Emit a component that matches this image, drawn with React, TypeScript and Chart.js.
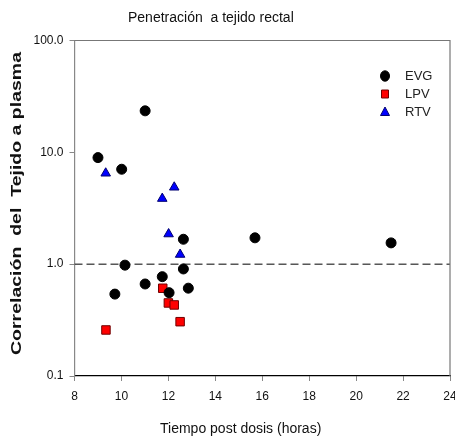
import React, { useEffect, useRef } from 'react';
import { Chart, registerables } from 'chart.js';

Chart.register(...registerables);

const FONT = '"Liberation Sans", Arial, sans-serif';

const evgTime = [9.0, 10.01, 11.01, 10.15, 9.72, 11.01, 11.74, 12.03, 12.64, 12.64, 12.85, 15.69, 21.49];
const evgRatio = [8.97, 7.06, 23.5, 0.98, 0.54, 0.665, 0.773, 0.556, 1.67, 0.906, 0.61, 1.72, 1.55];
const lpvTime = [9.34, 11.76, 12.0, 12.25, 12.5];
const lpvRatio = [0.258, 0.609, 0.45, 0.432, 0.306];
const rtvTime = [9.33, 11.74, 12.25, 12.01, 12.5];
const rtvRatio = [6.5, 3.86, 4.87, 1.86, 1.22];
const refTime = [8, 24];
const refRatio = [1, 1];
const xTicks = [8, 10, 12, 14, 16, 18, 20, 22, 24];
const yTicks = [0.1, 1, 10, 100];
const seriesNames = ['EVG', 'LPV', 'RTV'];
const titleText = 'Penetración  a tejido rectal';
const xTitleText = 'Tiempo post dosis (horas)';
const yTitleText = 'Correlación  del  Tejido a plasma';

const toPts = (xs: number[], ys: number[]) => xs.map((x, i) => ({ x, y: ys[i] }));

const styles = [
  { fill: '#000000', stroke: '#000000', shape: 'circle' },
  { fill: '#ff0000', stroke: '#700000', shape: 'rect' },
  { fill: '#0000ff', stroke: '#000070', shape: 'triangle' },
];

function drawMarker(ctx: CanvasRenderingContext2D, shape: string, x: number, y: number, fill: string, stroke: string) {
  ctx.save();
  ctx.fillStyle = fill;
  ctx.strokeStyle = stroke;
  ctx.lineWidth = 1;
  ctx.beginPath();
  if (shape === 'circle') {
    ctx.ellipse(x, y, 4.5, 5.2, 0, 0, Math.PI * 2);
  } else if (shape === 'rect') {
    ctx.rect(x - 3.5, y - 4, 7, 8);
  } else {
    ctx.moveTo(x, y - 5);
    ctx.lineTo(x + 4.5, y + 3.5);
    ctx.lineTo(x - 4.5, y + 3.5);
    ctx.closePath();
  }
  ctx.fill();
  ctx.stroke();
  ctx.restore();
}

const decorPlugin = {
  id: 'decor',
  afterDraw(chart: any) {
    const ctx: CanvasRenderingContext2D = chart.ctx;
    const a = chart.chartArea;
    ctx.save();
    // frame top & right
    ctx.strokeStyle = '#777777';
    ctx.lineWidth = 1.2;
    ctx.beginPath();
    ctx.moveTo(a.left, a.top);
    ctx.lineTo(a.right, a.top);
    ctx.lineTo(a.right, a.bottom);
    ctx.stroke();

    // title
    ctx.fillStyle = '#111111';
    ctx.font = `14px ${FONT}`;
    ctx.textAlign = 'left';
    ctx.textBaseline = 'middle';
    ctx.fillText(titleText, 128, 18);

    // x title
    ctx.fillText(xTitleText, 160, 429);

    // y title (stretched like the original)
    ctx.font = `bold 14px ${FONT}`;
    const w = ctx.measureText(yTitleText).width;
    const k = 303 / w;
    ctx.save();
    ctx.translate(17, 203.5);
    ctx.rotate(-Math.PI / 2);
    ctx.scale(k, 1);
    ctx.textAlign = 'center';
    ctx.fillText(yTitleText, 0, 0);
    ctx.restore();

    // legend
    const ly = [76, 94, 112];
    ctx.font = `13px ${FONT}`;
    ctx.textAlign = 'left';
    seriesNames.forEach((name, i) => {
      const s = styles[i];
      drawMarker(ctx, s.shape, 385, ly[i], s.fill, s.stroke);
      ctx.fillStyle = '#222222';
      ctx.fillText(name, 405, ly[i] + 0.5);
    });
    ctx.restore();
  },
};

export default function App() {
  const ref = useRef<HTMLCanvasElement>(null);
  useEffect(() => {
    document.body.style.margin = '0';
    const canvas = ref.current!;
    const chart = new Chart(canvas, {
      type: 'scatter',
      data: {
        datasets: [
          {
            label: 'ref',
            type: 'line',
            data: toPts(refTime, refRatio),
            borderColor: '#000000',
            borderWidth: 1,
            borderDash: [8, 4],
            pointRadius: 0,
            showLine: true,
            order: 5,
          } as any,
          {
            label: seriesNames[0],
            data: toPts(evgTime, evgRatio),
            pointStyle: 'circle',
            pointRadius: 5,
            backgroundColor: styles[0].fill,
            borderColor: styles[0].stroke,
            borderWidth: 1,
            order: 1,
          },
          {
            label: seriesNames[1],
            data: toPts(lpvTime, lpvRatio),
            pointStyle: 'rect',
            pointRadius: 6,
            backgroundColor: styles[1].fill,
            borderColor: styles[1].stroke,
            borderWidth: 1,
            order: 1,
          },
          {
            label: seriesNames[2],
            data: toPts(rtvTime, rtvRatio),
            pointStyle: 'triangle',
            pointRadius: 5.5,
            backgroundColor: styles[2].fill,
            borderColor: styles[2].stroke,
            borderWidth: 1,
            order: 1,
          },
        ],
      },
      options: {
        responsive: false,
        animation: false,
        devicePixelRatio: 1,
        layout: { autoPadding: false, padding: { top: 40.5, right: 5, left: 0, bottom: 0 } },
        plugins: {
          legend: { display: false },
          tooltip: { enabled: false },
          title: { display: false },
        },
        scales: {
          x: {
            type: 'linear',
            min: 8,
            max: 24,
            afterBuildTicks: (s: any) => {
              s.ticks = xTicks.map((v) => ({ value: v }));
            },
            afterFit: (s: any) => {
              s.height = 64;
              s.paddingLeft = 0;
              s.paddingRight = 0;
            },
            ticks: {
              color: '#111111',
              font: { family: FONT, size: 12 },
              padding: 8,
              maxRotation: 0,
              autoSkip: false,
            },
            grid: { drawOnChartArea: false, drawTicks: true, tickLength: 5, color: '#888888' },
            border: { display: true, color: '#000000', width: 1.2 },
          },
          y: {
            type: 'logarithmic',
            min: 0.1,
            max: 100,
            afterBuildTicks: (s: any) => {
              s.ticks = yTicks.map((v) => ({ value: v }));
            },
            afterFit: (s: any) => {
              s.width = 74.5;
              s.paddingTop = 0;
              s.paddingBottom = 0;
            },
            ticks: {
              color: '#111111',
              font: { family: FONT, size: 12 },
              padding: 6,
              autoSkip: false,
              callback: (v: any) => Number(v).toFixed(1),
            },
            grid: { drawOnChartArea: false, drawTicks: true, tickLength: 5, color: '#888888' },
            border: { display: true, color: '#888888', width: 1.2 },
          },
        },
      },
      plugins: [decorPlugin],
    });
    return () => chart.destroy();
  }, []);
  return (
    <div style={{ width: 455, height: 440 }}>
      <canvas ref={ref} width={455} height={440} style={{ display: 'block' }} />
    </div>
  );
}
